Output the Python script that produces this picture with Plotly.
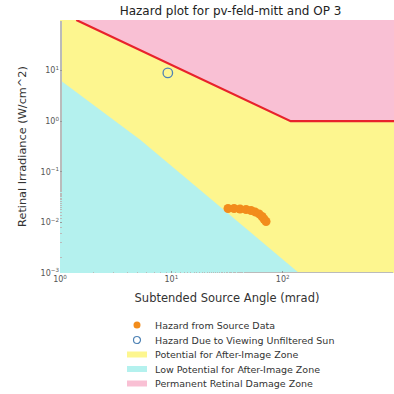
import plotly.graph_objects as go

# Hazard data: subtended source angle (mrad) and retinal irradiance (W/cm^2)
source_angle = [32.3, 36.6, 41.4, 46.9, 52.0, 56.5, 61.4, 65.3, 68.0, 70.9]
source_irradiance = [0.0188, 0.0188, 0.0184, 0.0180, 0.0172, 0.0161, 0.0147, 0.0131, 0.0117, 0.0104]

# Unfiltered sun reference
sun_angle = [9.3]
sun_irradiance = [9.0]

# Permanent retinal damage threshold
burn_angle = [1.4, 118.0, 1000.0]
burn_irradiance = [100.0, 1.0, 1.0]

# Low potential for after-image boundary
flash_angle = [1.0, 5.25, 32.0, 140.0]
flash_irradiance = [6.5, 0.43, 0.0153, 0.001]

x_min, x_max = 1.0, 1000.0
y_min, y_max = 0.001, 100.0

x_ticks = [1, 10, 100, 1000]
x_ticktext = ["10<sup>0</sup>", "10<sup>1</sup>", "10<sup>2</sup>", "10<sup>3</sup>"]
y_ticks = [0.001, 0.01, 0.1, 1, 10]
y_ticktext = ["10<sup>−3</sup>", "10<sup>−2</sup>", "10<sup>−1</sup>", "10<sup>0</sup>", "10<sup>1</sup>"]

legend_labels = [
    "Hazard from Source Data",
    "Hazard Due to Viewing Unfiltered Sun",
    "Potential for After-Image Zone",
    "Low Potential for After-Image Zone",
    "Permanent Retinal Damage Zone",
]

YELLOW = "#fdf68f"
CYAN = "#b4f1ee"
PINK = "#f9c0d4"
RED = "#e8222c"
ORANGE = "#f28c1c"
BLUE = "#4f83b5"

W = H = 394
M_L, M_R, M_T, M_B = 60, 0, 20, 121
PW, PH = W - M_L - M_R, H - M_T - M_B


def px_x(px):
    return (px - M_L) / PW


def px_y(py):
    return (H - M_B - py) / PH


fig = go.Figure()

# Potential for after-image: whole plotting region underneath the other zones
fig.add_trace(go.Scatter(
    x=[x_min, x_max, x_max, x_min], y=[y_min, y_min, y_max, y_max],
    fill="toself", fillcolor=YELLOW, mode="lines", line=dict(width=0),
    hoverinfo="skip"))

# Low potential zone below the flash boundary
fig.add_trace(go.Scatter(
    x=flash_angle + [x_min], y=flash_irradiance + [y_min],
    fill="toself", fillcolor=CYAN, mode="lines", line=dict(width=0),
    hoverinfo="skip"))

# Permanent damage zone above the burn threshold
fig.add_trace(go.Scatter(
    x=burn_angle + [x_max], y=burn_irradiance + [y_max],
    fill="toself", fillcolor=PINK, mode="lines", line=dict(width=0),
    hoverinfo="skip"))

# Burn threshold line
fig.add_trace(go.Scatter(
    x=burn_angle, y=burn_irradiance, mode="lines",
    line=dict(color=RED, width=2.2), hoverinfo="skip"))

fig.add_trace(go.Scatter(
    x=sun_angle, y=sun_irradiance, mode="markers",
    marker=dict(size=9.5, color="rgba(0,0,0,0)", line=dict(color=BLUE, width=1.3))))

fig.add_trace(go.Scatter(
    x=source_angle, y=source_irradiance, mode="markers",
    marker=dict(size=9, color=ORANGE, line=dict(width=0))))

# Legend drawn below the axes: swatch column plus label column
shapes = []
annotations = []
row_y = [325, 340, 354.5, 369, 383.5]
sw_cx = 137
for i, (label, py) in enumerate(zip(legend_labels, row_y)):
    if i == 0:
        shapes.append(dict(type="circle", xref="paper", yref="paper",
                           x0=px_x(sw_cx - 3.5), x1=px_x(sw_cx + 3.5),
                           y0=px_y(py + 3.5), y1=px_y(py - 3.5),
                           fillcolor=ORANGE, line=dict(width=0)))
    elif i == 1:
        shapes.append(dict(type="circle", xref="paper", yref="paper",
                           x0=px_x(sw_cx - 3.5), x1=px_x(sw_cx + 3.5),
                           y0=px_y(py + 3.5), y1=px_y(py - 3.5),
                           fillcolor="rgba(0,0,0,0)", line=dict(color=BLUE, width=1.2)))
    else:
        col = [YELLOW, CYAN, PINK][i - 2]
        shapes.append(dict(type="rect", xref="paper", yref="paper",
                           x0=px_x(127), x1=px_x(147),
                           y0=px_y(py + 3), y1=px_y(py - 3),
                           fillcolor=col, line=dict(width=0)))
    annotations.append(dict(text=label, xref="paper", yref="paper",
                            x=px_x(153), y=px_y(py), xanchor="left", yanchor="middle",
                            showarrow=False, font=dict(size=9.5, color="#333333")))

axis_font = dict(family="DejaVu Sans", size=8, color="#555555")
fig.update_layout(
    width=W, height=H,
    margin=dict(l=M_L, r=M_R, t=M_T, b=M_B, autoexpand=False),
    paper_bgcolor="white", plot_bgcolor="white",
    font=dict(family="DejaVu Sans", color="#222222"),
    showlegend=False,
    title=dict(text="Hazard plot for pv-feld-mitt and OP 3", x=0.585, xanchor="center",
               y=0.972, yanchor="middle", font=dict(size=12, color="#222222")),
    xaxis=dict(type="log", range=[0, 3], tickvals=x_ticks, ticktext=x_ticktext,
               tickfont=axis_font, showgrid=False, zeroline=False, automargin=False,
               ticks="inside", ticklen=2, tickcolor="#999999",
               minor=dict(ticks="inside", ticklen=1.5, tickcolor="#bbbbbb"),
               title=dict(text="Subtended Source Angle (mrad)", standoff=10,
                          font=dict(size=11.5, color="#333333"))),
    yaxis=dict(type="log", range=[-3, 2], tickvals=y_ticks, ticktext=y_ticktext,
               tickfont=axis_font, showgrid=False, zeroline=False, automargin=False,
               ticks="inside", ticklen=2, tickcolor="#999999",
               minor=dict(ticks="inside", ticklen=1.5, tickcolor="#bbbbbb"),
               title=dict(text="Retinal Irradiance (W/cm^2)", standoff=11,
                          font=dict(size=11.3, color="#333333"))),
    shapes=shapes,
    annotations=annotations,
)

fig.write_html("out.html")
